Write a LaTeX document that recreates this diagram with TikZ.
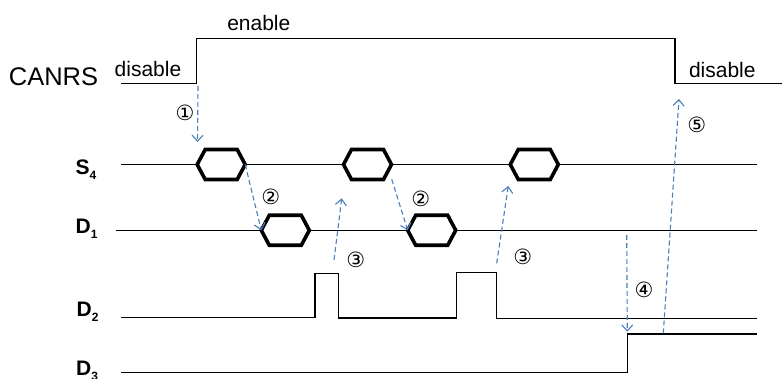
\documentclass[tikz,border=0pt]{standalone}
\usepackage{fontspec}
\setmainfont{Liberation Sans}
\newfontfamily\circfont{DejaVu Sans}
\usetikzlibrary{arrows.meta}

\definecolor{arrowblue}{RGB}{74,126,187}
\newcommand\subidx[1]{\raisebox{-5pt}{\fontsize{12}{12}\selectfont #1}}

\tikzset{
  wave/.style={black, line width=1.3pt},
  lbl/.style={font=\fontsize{21}{21}\selectfont, inner sep=0pt},
  sig/.style={font=\fontsize{21}{21}\selectfont\bfseries, inner sep=0pt, anchor=base west},
  num/.style={font=\circfont\fontsize{21}{21}\selectfont, inner sep=0pt},
  flow/.style={arrowblue, line width=1.1pt, dash pattern=on 5pt off 3pt,
    -{Straight Barb[length=6pt,width=11pt,line width=1.1pt]}},
  hexa/.pic={
    \draw[black, line width=3.6pt] (-24,0) -- (-16,15) -- (16,15) -- (24,0)
      -- (16,-15) -- (-16,-15) -- cycle;
    \coordinate (-w) at (-24,0);
    \coordinate (-e) at (24,0);
  }
}

\begin{document}
\begin{tikzpicture}[x=1pt, y=-1pt]
\useasboundingbox (0,0) rectangle (782,379);
% Define the nodes
\node[lbl, anchor=base, font=\fontsize{25.5}{25.5}\selectfont] at (53.5,86) (canrs) {CANRS};
\node[lbl, anchor=base] at (258.8,31) (en) {enable};
\node[lbl, anchor=base] at (148,76.7) (dis1) {disable};
\node[lbl, anchor=base] at (722.3,77.3) (dis2) {disable};
\node[sig] at (75.5,175) (s4) {S\subidx{4}};
\node[sig] at (75.5,233.3) (d1) {D\subidx{1}};
\node[sig] at (76.5,316.7) (d2) {D\subidx{2}};
\node[sig] at (76,375.5) (d3) {D\subidx{3}};
\node[num] at (185,112.5) (n1) {①};
\node[num] at (270.7,197.3) (n2a) {②};
\node[num] at (420.7,199.3) (n2b) {②};
\node[num] at (355.7,260) (n3a) {③};
\node[num] at (522.7,256.7) (n3b) {③};
\node[num] at (644,290) (n4) {④};
\node[num] at (696.7,125) (n5) {⑤};
% Hexagons
\pic (sa) at (221.2,164.5) {hexa};
\pic (sb) at (367.5,164.5) {hexa};
\pic (sc) at (534.3,164.5) {hexa};
\pic (da) at (285.3,230.3) {hexa};
\pic (db) at (431.7,230.3) {hexa};
% Arrow ends
\coordinate (r1) at (198,86);
\coordinate (t1) at (197.5,142);
\coordinate (r2) at (391.7,179.3);
\coordinate (r3) at (334,260);
\coordinate (t3) at (341.7,198.3);
\coordinate (r4) at (496.7,263.3);
\coordinate (t4) at (508.3,186);
\coordinate (r5) at (626.7,235);
\coordinate (t5) at (627.3,331.7);
\coordinate (r6) at (663.3,333.3);
\coordinate (t6) at (679,99);
% Draw the waves
\draw[wave] (120.7,83.3) -- (196.7,83.3) -- (196.7,38.3) -- (675,38.3)
  -- (675,83.3) -- (782,83.3);
\draw[wave] (120.7,164.5) -- (sa-w) (sa-e) -- (sb-w) (sb-e) -- (sc-w)
  (sc-e) -- (756.7,164.5);
\draw[wave] (116,230.3) -- (da-w) (da-e) -- (db-w) (db-e) -- (756.7,230.3);
\draw[wave] (120.7,317.7) -- (315,317.7) -- (315,273.7) -- (338.7,273.7)
  -- (338.7,318) -- (456.7,318) -- (456.7,272.3) -- (496.7,272.3)
  -- (496.7,318.3) -- (756.7,318.3);
\draw[wave] (120.7,372.7) -- (627.3,372.7) -- (627.3,334) -- (756.7,334);
% Draw the arrows
\draw[flow] (r1) -- (t1);
\draw[flow] (sa-e) -- (da-w);
\draw[flow] (r2) -- (db-w);
\draw[flow] (r3) -- (t3);
\draw[flow] (r4) -- (t4);
\draw[flow] (r5) -- (t5);
\draw[flow] (r6) -- (t6);
\end{tikzpicture}
\end{document}
